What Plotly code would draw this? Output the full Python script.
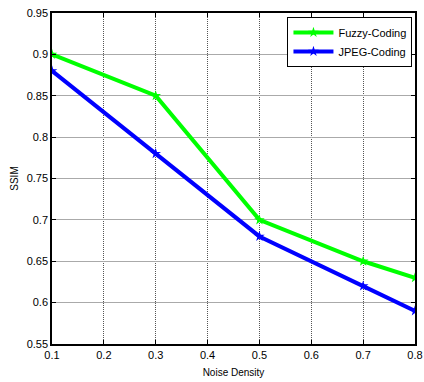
import plotly.graph_objects as go

noise_density = [0.1, 0.3, 0.5, 0.7, 0.8]
fuzzy_ssim = [0.90, 0.85, 0.70, 0.65, 0.63]
jpeg_ssim = [0.88, 0.78, 0.68, 0.62, 0.59]
x_ticks = [0.1, 0.2, 0.3, 0.4, 0.5, 0.6, 0.7, 0.8]
y_ticks = [0.55, 0.6, 0.65, 0.7, 0.75, 0.8, 0.85, 0.9, 0.95]

fig = go.Figure()
fig.add_trace(go.Scatter(x=noise_density, y=fuzzy_ssim, name="Fuzzy-Coding",
                         mode="lines+markers", line=dict(color="#00ff00", width=4),
                         marker=dict(symbol="star", size=8, color="#00ff00")))
fig.add_trace(go.Scatter(x=noise_density, y=jpeg_ssim, name="JPEG-Coding",
                         mode="lines+markers", line=dict(color="#0000ff", width=4),
                         marker=dict(symbol="star", size=8, color="#0000ff")))

axis_common = dict(showline=True, linecolor="black", linewidth=1.5, mirror="ticks",
                   ticks="inside", ticklen=4, tickcolor="black", automargin=False,
                   showgrid=True, zeroline=False, ticklabeloverflow="allow",
                   tickfont=dict(family="Liberation Sans, Arial", size=11, color="black"))

fig.update_layout(
    width=424, height=382,
    margin=dict(l=52, r=9, t=13, b=38),
    paper_bgcolor="white", plot_bgcolor="white",
    font=dict(family="Liberation Sans, Arial", size=11, color="black"),
    xaxis=dict(range=[0.1, 0.8], tickvals=x_ticks, ticktext=[f"{v:g}" for v in x_ticks],
               gridcolor="#555555", griddash="1px,1px", gridwidth=1,
               title=dict(text="Noise Density", font=dict(size=10), standoff=9), **axis_common),
    yaxis=dict(range=[0.55, 0.95], tickvals=y_ticks, ticktext=[f"{v:g}" for v in y_ticks],
               gridcolor="#aaaaaa", gridwidth=1.2,
               title=dict(text="SSIM", font=dict(size=10), standoff=6), **axis_common),
    legend=dict(x=0.993, y=0.988, xanchor="right", yanchor="top",
                bgcolor="white", bordercolor="black", borderwidth=1,
                font=dict(size=11), tracegroupgap=0, itemwidth=40),
    showlegend=True,
)

fig.write_html("out.html", config={"displayModeBar": False},
               post_script="document.body.style.margin='0';document.body.style.padding='0';")
